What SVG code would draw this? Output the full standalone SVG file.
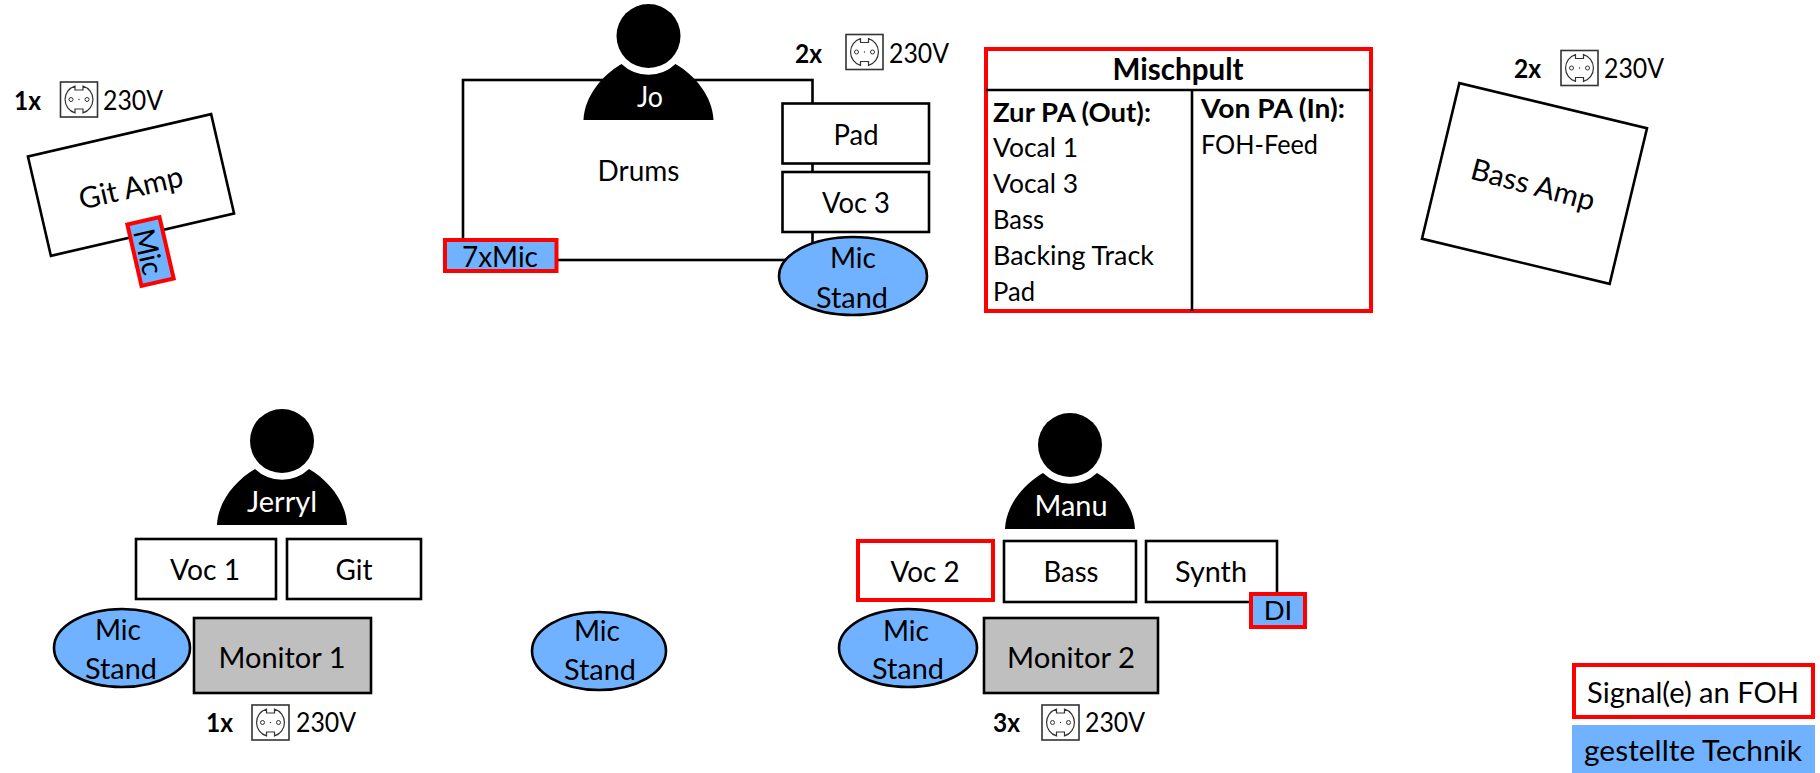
<svg xmlns="http://www.w3.org/2000/svg" width="1820" height="773" viewBox="0 0 1820 773">
<style>
text{font-family:"Lato","Liberation Sans",sans-serif;font-size:29.5px;fill:#000}
.c{text-anchor:middle}
.b{font-weight:700}
.w{fill:#fff}
.m{font-size:27.5px}
.p{font-size:26px}
.box{fill:#fff;stroke:#000;stroke-width:2.6}
.red{fill:#fff;stroke:#f00;stroke-width:4}
.redb{fill:#70b2ff;stroke:#f00;stroke-width:4}
.mon{fill:#bfbfbf;stroke:#000;stroke-width:2.6}
.st{fill:#70b2ff;stroke:#000;stroke-width:2.6}
.line{fill:none;stroke:#000;stroke-width:2.6}
</style>
<defs>
<g id="socket">
<rect x="-18.500" y="-17.500" width="37" height="35" fill="#fff" stroke="#333" stroke-width="1.600"/>
<path d="M-4,-13.400V-9.500H4V-13.400A14,14 0 0 1 4,13.400V9.500H-4V13.400A14,14 0 0 1 -4,-13.400Z" fill="none" stroke="#333" stroke-width="1.200"/>
<circle cx="-8" cy="0" r="2" fill="none" stroke="#333" stroke-width="1"/>
<circle cx="8" cy="0" r="2" fill="none" stroke="#333" stroke-width="1"/>
<circle cx="0" cy="0" r=".7" fill="#333"/>
</g>
<g id="person">
<circle cx="0" cy="0" r="32" fill="#000"/>
<path d="M-65,84C-64,60 -46,39 -27,28A39,39 0 0 0 27,28C46,39 64,60 65,84Z" fill="#000"/>
</g>
</defs>

<g id="git-amp">
<rect class="box" x="-94" y="-51" width="188" height="102" transform="translate(131,185) rotate(-13)"/>
<text class="c" transform="translate(131,188) rotate(-13)" y="10" textLength="106" lengthAdjust="spacingAndGlyphs">Git Amp</text>
</g>
<g id="git-mic">
<rect class="redb" x="-16.500" y="-31.500" width="33" height="63" transform="translate(150.500,251.500) rotate(-13)"/>
<text class="c" transform="translate(148,252) rotate(77)" y="10" textLength="46" lengthAdjust="spacingAndGlyphs">Mic</text>
</g>
<g id="power-git">
<text class="b p" x="14" y="110" textLength="27" lengthAdjust="spacingAndGlyphs">1x</text>
<use href="#socket" x="79" y="99.500"/>
<text class="p" x="103" y="110" textLength="60" lengthAdjust="spacingAndGlyphs">230V</text>
</g>

<g id="drums">
<rect class="box" x="463" y="80" width="349.500" height="180"/>
<text class="c" x="638.500" y="181" textLength="82" lengthAdjust="spacingAndGlyphs">Drums</text>
</g>
<g id="jo">
<use href="#person" x="648.500" y="36"/>
<text class="c w" x="650" y="107" textLength="26" lengthAdjust="spacingAndGlyphs">Jo</text>
</g>
<g id="drum-mic">
<rect class="redb" x="445" y="240" width="111.500" height="31"/>
<text class="c" x="500" y="267" textLength="76" lengthAdjust="spacingAndGlyphs">7xMic</text>
</g>
<g id="pad">
<rect class="box" x="782.500" y="103.500" width="146.500" height="60"/>
<text class="c" x="856" y="145" textLength="45" lengthAdjust="spacingAndGlyphs">Pad</text>
</g>
<g id="voc3">
<rect class="box" x="782.500" y="172" width="146.500" height="60"/>
<text class="c" x="856" y="213" textLength="68" lengthAdjust="spacingAndGlyphs">Voc 3</text>
</g>
<g id="stand-drums">
<ellipse class="st" cx="853" cy="276" rx="74" ry="39"/>
<text class="c" x="853" y="268" textLength="46" lengthAdjust="spacingAndGlyphs">Mic</text>
<text class="c" x="852" y="308" textLength="72" lengthAdjust="spacingAndGlyphs">Stand</text>
</g>
<g id="power-drums">
<text class="b p" x="795" y="63" textLength="27" lengthAdjust="spacingAndGlyphs">2x</text>
<use href="#socket" x="864.500" y="52"/>
<text class="p" x="889" y="63" textLength="60" lengthAdjust="spacingAndGlyphs">230V</text>
</g>

<g id="mischpult">
<rect class="red" x="986" y="49" width="385" height="262"/>
<path class="line" d="M986,90H1371M1192,90V311"/>
<text class="c b" x="1178" y="80" textLength="131" lengthAdjust="spacingAndGlyphs">Mischpult</text>
<text class="b m" x="993" y="122" textLength="158" lengthAdjust="spacingAndGlyphs">Zur PA (Out):</text>
<text class="m" x="993" y="157" textLength="85" lengthAdjust="spacingAndGlyphs">Vocal 1</text>
<text class="m" x="993" y="193" textLength="85" lengthAdjust="spacingAndGlyphs">Vocal 3</text>
<text class="m" x="993" y="229" textLength="51" lengthAdjust="spacingAndGlyphs">Bass</text>
<text class="m" x="993" y="265" textLength="161" lengthAdjust="spacingAndGlyphs">Backing Track</text>
<text class="m" x="993" y="301" textLength="42" lengthAdjust="spacingAndGlyphs">Pad</text>
<text class="b m" x="1201" y="118" textLength="144" lengthAdjust="spacingAndGlyphs">Von PA (In):</text>
<text class="m" x="1201" y="154" textLength="117" lengthAdjust="spacingAndGlyphs">FOH-Feed</text>
</g>

<g id="bass-amp">
<rect class="box" x="-96.500" y="-80" width="193" height="160" transform="translate(1534.500,183.500) rotate(13.500)"/>
<text class="c" transform="translate(1533,185) rotate(15)" y="10" textLength="127" lengthAdjust="spacingAndGlyphs">Bass Amp</text>
</g>
<g id="power-bass">
<text class="b p" x="1514" y="78" textLength="27" lengthAdjust="spacingAndGlyphs">2x</text>
<use href="#socket" x="1579.500" y="68"/>
<text class="p" x="1604" y="78" textLength="60" lengthAdjust="spacingAndGlyphs">230V</text>
</g>

<g id="jerryl">
<use href="#person" x="282" y="441"/>
<text class="c w" x="282" y="512" textLength="70" lengthAdjust="spacingAndGlyphs">Jerryl</text>
</g>
<g id="voc1">
<rect class="box" x="136" y="539" width="140" height="60"/>
<text class="c" x="205" y="580" textLength="70" lengthAdjust="spacingAndGlyphs">Voc 1</text>
</g>
<g id="git">
<rect class="box" x="287" y="539" width="134" height="60"/>
<text class="c" x="354" y="580" textLength="37" lengthAdjust="spacingAndGlyphs">Git</text>
</g>
<g id="stand-jerryl">
<ellipse class="st" cx="122" cy="648" rx="68" ry="39"/>
<text class="c" x="118" y="640" textLength="46" lengthAdjust="spacingAndGlyphs">Mic</text>
<text class="c" x="121" y="679" textLength="72" lengthAdjust="spacingAndGlyphs">Stand</text>
</g>
<g id="monitor1">
<rect class="mon" x="194" y="618" width="177" height="75"/>
<text class="c" x="282" y="668" textLength="127" lengthAdjust="spacingAndGlyphs">Monitor 1</text>
</g>
<g id="power-jerryl">
<text class="b p" x="206" y="732" textLength="27" lengthAdjust="spacingAndGlyphs">1x</text>
<use href="#socket" x="270.500" y="722.500"/>
<text class="p" x="296" y="732" textLength="60" lengthAdjust="spacingAndGlyphs">230V</text>
</g>

<g id="stand-center">
<ellipse class="st" cx="599" cy="651" rx="67" ry="39"/>
<text class="c" x="597" y="641" textLength="46" lengthAdjust="spacingAndGlyphs">Mic</text>
<text class="c" x="600" y="680" textLength="72" lengthAdjust="spacingAndGlyphs">Stand</text>
</g>

<g id="manu">
<use href="#person" x="1070" y="445"/>
<text class="c w" x="1071" y="516" textLength="73" lengthAdjust="spacingAndGlyphs">Manu</text>
</g>
<g id="voc2">
<rect class="red" x="858" y="541" width="135" height="59"/>
<text class="c" x="925" y="582" textLength="69" lengthAdjust="spacingAndGlyphs">Voc 2</text>
</g>
<g id="bass">
<rect class="box" x="1004" y="541" width="132" height="61"/>
<text class="c" x="1071" y="582" textLength="55" lengthAdjust="spacingAndGlyphs">Bass</text>
</g>
<g id="synth">
<rect class="box" x="1146" y="541" width="131" height="61"/>
<text class="c" x="1211" y="582" textLength="72" lengthAdjust="spacingAndGlyphs">Synth</text>
</g>
<g id="di">
<rect class="redb" x="1251" y="594" width="54" height="33"/>
<text class="c m" x="1278" y="620">DI</text>
</g>
<g id="stand-manu">
<ellipse class="st" cx="908" cy="648" rx="69" ry="39"/>
<text class="c" x="906" y="641" textLength="46" lengthAdjust="spacingAndGlyphs">Mic</text>
<text class="c" x="908" y="679" textLength="72" lengthAdjust="spacingAndGlyphs">Stand</text>
</g>
<g id="monitor2">
<rect class="mon" x="984" y="618" width="174" height="75"/>
<text class="c" x="1071" y="668" textLength="128" lengthAdjust="spacingAndGlyphs">Monitor 2</text>
</g>
<g id="power-manu">
<text class="b p" x="993" y="732" textLength="27" lengthAdjust="spacingAndGlyphs">3x</text>
<use href="#socket" x="1060.500" y="722.500"/>
<text class="p" x="1085" y="732" textLength="60" lengthAdjust="spacingAndGlyphs">230V</text>
</g>

<g id="legend-signal">
<rect class="red" x="1574" y="665" width="239" height="52"/>
<text class="c" x="1693" y="703" textLength="212" lengthAdjust="spacingAndGlyphs">Signal(e) an FOH</text>
</g>
<g id="legend-technik">
<rect x="1572" y="725" width="243" height="48" fill="#70b2ff"/>
<text class="c" x="1693" y="761" textLength="218" lengthAdjust="spacingAndGlyphs">gestellte Technik</text>
</g>
</svg>
